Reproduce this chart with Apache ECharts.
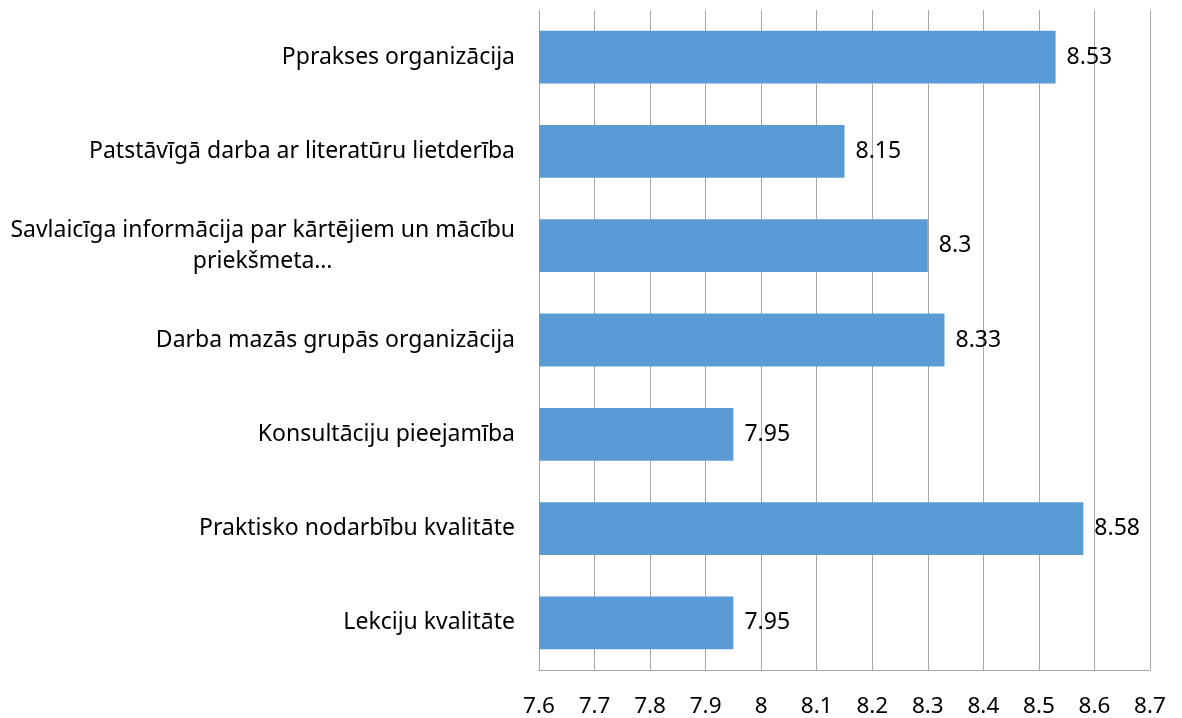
<!DOCTYPE html>
<html>
<head>
<meta charset="utf-8">
<script src="https://cdn.jsdelivr.net/npm/echarts@6/dist/echarts.min.js"></script>
<style>
  html, body { margin: 0; padding: 0; background: #fff; }
  #chart { width: 1182px; height: 718px; }
</style>
</head>
<body>
<div id="chart"></div>
<script>
// bottom to top, as ECharts draws category axes
const categories = [
  'Lekciju kvalitāte',
  'Praktisko nodarbību kvalitāte',
  'Konsultāciju pieejamība',
  'Darba mazās grupās organizācija',
  'Savlaicīga informācija par kārtējiem un mācību\npriekšmeta…',
  'Patstāvīgā darba ar literatūru lietderība',
  'Pprakses organizācija'
]
const scores = [7.95, 8.58, 7.95, 8.33, 8.3, 8.15, 8.53]

const font = '"Noto Sans", "DejaVu Sans", sans-serif'
const chart = echarts.init(document.getElementById('chart'))

chart.setOption({
  animation: false,
  grid: { left: 539, right: 32, top: 10, bottom: 48, containLabel: false },
  xAxis: {
    type: 'value', min: 7.6, max: 8.7, interval: 0.1,
    axisLine: { show: true, lineStyle: { color: '#a6a6a6', width: 1 } },
    axisTick: { show: false },
    axisLabel: {
      color: '#000', fontFamily: font, fontSize: 22.5, margin: 25,
      formatter: (v) => String(+v.toFixed(1))
    },
    splitLine: { show: true, lineStyle: { color: '#a6a6a6', width: 1 } }
  },
  yAxis: {
    type: 'category', data: categories,
    axisLine: { show: false },
    axisTick: { show: false },
    axisLabel: {
      margin: 24, align: 'right',
      formatter: (v) => '{c|' + v.split('\n').join('}\n{c|') + '}',
      rich: {
        c: { color: '#000', fontFamily: font, fontSize: 23, align: 'center', lineHeight: 31 }
      }
    }
  },
  series: [{
    type: 'bar', data: scores, barWidth: '56%',
    itemStyle: { color: '#5b9bd5' },
    label: {
      show: true, position: 'right', distance: 11,
      color: '#000', fontFamily: font, fontSize: 23
    }
  }]
})
</script>
</body>
</html>
